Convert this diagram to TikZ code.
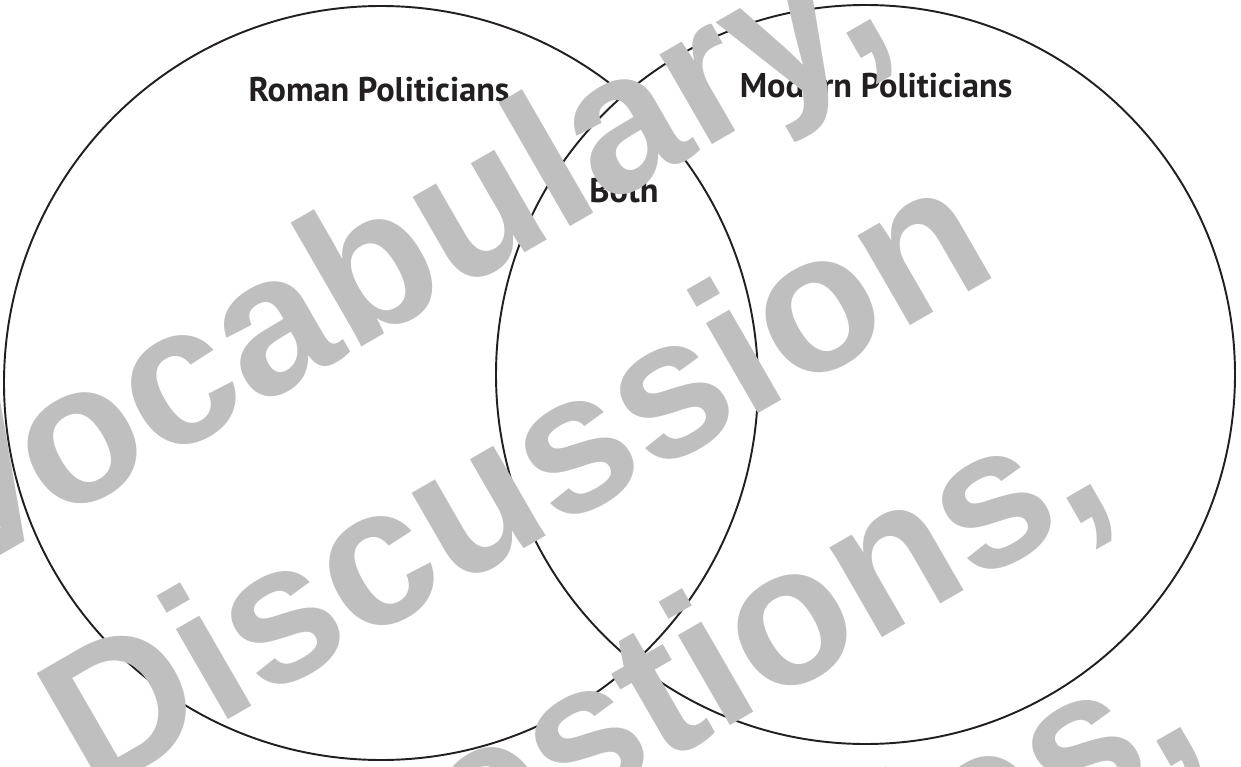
\documentclass[tikz,border=0pt]{standalone}
\usepackage{fontspec}
\setmainfont{PT Sans}
\newfontfamily\markfont{Liberation Sans}
\usetikzlibrary{math}
\definecolor{ink}{HTML}{231F20}
\definecolor{wmgrey}{HTML}{BFBFBF}

\begin{document}
\begin{tikzpicture}[x=0.02cm, y=-0.02cm,
    vennlabel/.style={font=\bfseries\fontsize{19.5}{23}\selectfont, text=ink, anchor=base, inner sep=0pt},
    wmark/.style={font=\markfont\bfseries\fontsize{112}{130}\selectfont, text=wmgrey, anchor=base, rotate=30, inner sep=0pt}]
    \tikzmath{\rL = 377; \rR = 369.5;}
    \useasboundingbox (0,0) rectangle (1241,767);
    \clip (0,0) rectangle (1241,767);

    \draw[ink, line width=1.1pt] (381,383) circle[radius=\rL];
    \draw[ink, line width=1.1pt] (865.5,374.5) circle[radius=\rR];

    \node[vennlabel] (roman) at (379,102) {Roman Politicians};
    \node[vennlabel] (modern) at (876,98) {Modern Politicians};
    \node[vennlabel] (both) at (624,202) {Both};

    % watermark on top
    \node[wmark] (vocab) at (426,310) {Vocabulary,};
    \node[wmark] (disc) at (548,535) {Discussion};
    \node[wmark] (quest) at (676,757) {Questions,};
    \node[wmark] (activ) at (804,979) {Activities,};
\end{tikzpicture}
\end{document}
